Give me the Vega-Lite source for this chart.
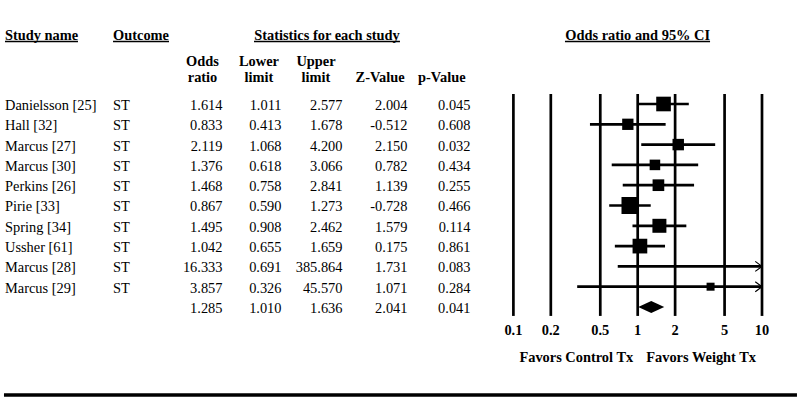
{
  "$schema": "https://vega.github.io/schema/vega-lite/v6.json",
  "width": 762,
  "height": 401,
  "padding": {"left": 0, "top": 0, "right": 38, "bottom": 0},
  "autosize": {"type": "none"},
  "background": "white",
  "config": {
    "view": {"stroke": null},
    "text": {"font": "Liberation Serif", "fontSize": 14.4, "color": "black"},
    "locale": {"number": {"decimal": ".", "thousands": ",", "grouping": [3], "currency": ["$", ""], "minus": "-"}}
  },
  "datasets": {
    "rows": [
      {"id": 1, "kind": "study", "study": "Danielsson [25]", "outcome": "ST", "or": 1.614, "lower": 1.011, "upper": 2.577, "z": 2.004, "p": 0.045, "weight": 16.16},
      {"id": 2, "kind": "study", "study": "Hall [32]", "outcome": "ST", "or": 0.833, "lower": 0.413, "upper": 1.678, "z": -0.512, "p": 0.608, "weight": 7.20},
      {"id": 3, "kind": "study", "study": "Marcus [27]", "outcome": "ST", "or": 2.119, "lower": 1.068, "upper": 4.200, "z": 2.150, "p": 0.032, "weight": 7.55},
      {"id": 4, "kind": "study", "study": "Marcus [30]", "outcome": "ST", "or": 1.376, "lower": 0.618, "upper": 3.066, "z": 0.782, "p": 0.434, "weight": 5.52},
      {"id": 5, "kind": "study", "study": "Perkins [26]", "outcome": "ST", "or": 1.468, "lower": 0.758, "upper": 2.841, "z": 1.139, "p": 0.255, "weight": 8.10},
      {"id": 6, "kind": "study", "study": "Pirie [33]", "outcome": "ST", "or": 0.867, "lower": 0.590, "upper": 1.273, "z": -0.728, "p": 0.466, "weight": 23.92},
      {"id": 7, "kind": "study", "study": "Spring [34]", "outcome": "ST", "or": 1.495, "lower": 0.908, "upper": 2.462, "z": 1.579, "p": 0.114, "weight": 14.23},
      {"id": 8, "kind": "study", "study": "Ussher [61]", "outcome": "ST", "or": 1.042, "lower": 0.655, "upper": 1.659, "z": 0.175, "p": 0.861, "weight": 16.39},
      {"id": 9, "kind": "study", "study": "Marcus [28]", "outcome": "ST", "or": 16.333, "lower": 0.691, "upper": 385.864, "z": 1.731, "p": 0.083, "weight": 0.35},
      {"id": 10, "kind": "study", "study": "Marcus [29]", "outcome": "ST", "or": 3.857, "lower": 0.326, "upper": 45.570, "z": 1.071, "p": 0.284, "weight": 0.58},
      {"id": 11, "kind": "summary", "study": "", "outcome": "", "or": 1.285, "lower": 1.010, "upper": 1.636, "z": 2.041, "p": 0.041, "weight": 100}
    ],
    "ticks": [{"v": 0.1}, {"v": 0.2}, {"v": 0.5}, {"v": 1}, {"v": 2}, {"v": 5}, {"v": 10}]
  },
  "data": {"name": "rows"},
  "layer": [
    {
      "layer": [
        {
          "mark": {"type": "text", "align": "left", "baseline": "middle", "dy": 2},
          "encoding": {
            "x": {"datum": "Study", "bandPosition": 0.059, "scale": {"type": "band", "domain": ["Study", "Outcome", "OR", "LL", "UL", "Z", "P"], "paddingInner": 0, "paddingOuter": 1, "align": 0, "round": false}, "axis": null},
            "y": {"field": "id", "type": "quantitative", "scale": {"domain": [-4.123, 15.631], "reverse": true, "nice": false, "zero": false}, "axis": null},
            "text": {"field": "study", "type": "nominal"}
          }
        },
        {
          "mark": {"type": "text", "align": "left", "baseline": "middle", "dy": 2},
          "encoding": {
            "x": {"datum": "Outcome", "bandPosition": 0.335, "axis": null},
            "y": {"field": "id", "type": "quantitative", "axis": null},
            "text": {"field": "outcome", "type": "nominal"}
          }
        },
        {
          "mark": {"type": "text", "align": "right", "baseline": "middle", "dy": 2},
          "encoding": {
            "x": {"datum": "OR", "bandPosition": 0.628, "axis": null},
            "y": {"field": "id", "type": "quantitative", "axis": null},
            "text": {"field": "or", "type": "quantitative", "format": ".3f"}
          }
        },
        {
          "mark": {"type": "text", "align": "right", "baseline": "middle", "dy": 2},
          "encoding": {
            "x": {"datum": "LL", "bandPosition": 0.325, "axis": null},
            "y": {"field": "id", "type": "quantitative", "axis": null},
            "text": {"field": "lower", "type": "quantitative", "format": ".3f"}
          }
        },
        {
          "mark": {"type": "text", "align": "right", "baseline": "middle", "dy": 2},
          "encoding": {
            "x": {"datum": "UL", "bandPosition": 0.045, "axis": null},
            "y": {"field": "id", "type": "quantitative", "axis": null},
            "text": {"field": "upper", "type": "quantitative", "format": ".3f"}
          }
        },
        {
          "mark": {"type": "text", "align": "right", "baseline": "middle", "dy": 2},
          "encoding": {
            "x": {"datum": "Z", "bandPosition": -0.187, "axis": null},
            "y": {"field": "id", "type": "quantitative", "axis": null},
            "text": {"field": "z", "type": "quantitative", "format": ".3f"}
          }
        },
        {
          "mark": {"type": "text", "align": "right", "baseline": "middle", "dy": 2},
          "encoding": {
            "x": {"datum": "P", "bandPosition": -0.443, "axis": null},
            "y": {"field": "id", "type": "quantitative", "axis": null},
            "text": {"field": "p", "type": "quantitative", "format": ".3f"}
          }
        },
        {
          "data": {"values": [{"label": "Study name"}]},
          "mark": {"type": "text", "align": "left", "baseline": "alphabetic", "fontWeight": "bold"},
          "encoding": {
            "x": {"datum": "Study", "bandPosition": 0.059, "axis": null},
            "y": {"datum": -2.177, "type": "quantitative", "axis": null},
            "text": {"field": "label", "type": "nominal"}
          }
        },
        {
          "data": {"values": [{"label": "Outcome"}]},
          "mark": {"type": "text", "align": "left", "baseline": "alphabetic", "fontWeight": "bold"},
          "encoding": {
            "x": {"datum": "Outcome", "bandPosition": 0.335, "axis": null},
            "y": {"datum": -2.177, "type": "quantitative", "axis": null},
            "text": {"field": "label", "type": "nominal"}
          }
        },
        {
          "data": {"values": [{"label": "Statistics for each study"}]},
          "mark": {"type": "text", "align": "center", "baseline": "alphabetic", "fontWeight": "bold"},
          "encoding": {
            "x": {"datum": "UL", "bandPosition": -0.138, "axis": null},
            "y": {"datum": -2.177, "type": "quantitative", "axis": null},
            "text": {"field": "label", "type": "nominal"}
          }
        },
        {
          "data": {"values": [{}]},
          "mark": {"type": "rule", "strokeWidth": 1.4, "color": "black"},
          "encoding": {
            "x": {"datum": "Study", "bandPosition": 0.059, "axis": null},
            "x2": {"datum": "Study", "bandPosition": 0.921},
            "y": {"datum": -2.079, "type": "quantitative", "axis": null}
          }
        },
        {
          "data": {"values": [{}]},
          "mark": {"type": "rule", "strokeWidth": 1.4, "color": "black"},
          "encoding": {
            "x": {"datum": "Outcome", "bandPosition": 0.335, "axis": null},
            "x2": {"datum": "Outcome", "bandPosition": 0.996},
            "y": {"datum": -2.079, "type": "quantitative", "axis": null}
          }
        },
        {
          "data": {"values": [{}]},
          "mark": {"type": "rule", "strokeWidth": 1.4, "color": "black"},
          "encoding": {
            "x": {"datum": "LL", "bandPosition": 0, "axis": null},
            "x2": {"datum": "Z", "bandPosition": -0.276},
            "y": {"datum": -2.079, "type": "quantitative", "axis": null}
          }
        },
        {
          "data": {"values": [{"label": "Odds\nratio"}]},
          "mark": {"type": "text", "align": "center", "baseline": "alphabetic", "fontWeight": "bold", "lineBreak": "\n", "lineHeight": 16.6},
          "encoding": {
            "x": {"datum": "OR", "bandPosition": 0.392, "axis": null},
            "y": {"datum": -0.887, "type": "quantitative", "axis": null},
            "text": {"field": "label", "type": "nominal"}
          }
        },
        {
          "data": {"values": [{"label": "Lower\nlimit"}]},
          "mark": {"type": "text", "align": "center", "baseline": "alphabetic", "fontWeight": "bold", "lineBreak": "\n", "lineHeight": 16.6},
          "encoding": {
            "x": {"datum": "LL", "bandPosition": 0.059, "axis": null},
            "y": {"datum": -0.887, "type": "quantitative", "axis": null},
            "text": {"field": "label", "type": "nominal"}
          }
        },
        {
          "data": {"values": [{"label": "Upper\nlimit"}]},
          "mark": {"type": "text", "align": "center", "baseline": "alphabetic", "fontWeight": "bold", "lineBreak": "\n", "lineHeight": 16.6},
          "encoding": {
            "x": {"datum": "UL", "bandPosition": -0.268, "axis": null},
            "y": {"datum": -0.887, "type": "quantitative", "axis": null},
            "text": {"field": "label", "type": "nominal"}
          }
        },
        {
          "data": {"values": [{"label": "Z-Value"}]},
          "mark": {"type": "text", "align": "center", "baseline": "alphabetic", "fontWeight": "bold"},
          "encoding": {
            "x": {"datum": "Z", "bandPosition": -0.511, "axis": null},
            "y": {"datum": -0.069, "type": "quantitative", "axis": null},
            "text": {"field": "label", "type": "nominal"}
          }
        },
        {
          "data": {"values": [{"label": "p-Value"}]},
          "mark": {"type": "text", "align": "center", "baseline": "alphabetic", "fontWeight": "bold"},
          "encoding": {
            "x": {"datum": "P", "bandPosition": -0.782, "axis": null},
            "y": {"datum": -0.069, "type": "quantitative", "axis": null},
            "text": {"field": "label", "type": "nominal"}
          }
        },
        {
          "data": {"values": [{}]},
          "mark": {"type": "rule", "strokeWidth": 3.5, "color": "black"},
          "encoding": {
            "x": {"datum": "Study", "bandPosition": 0.047, "axis": null},
            "x2": {"datum": "P", "bandPosition": 3.413},
            "y": {"datum": 15.34, "type": "quantitative", "axis": null}
          }
        }
      ]
    },
    {
      "layer": [
        {
          "data": {"name": "ticks"},
          "mark": {"type": "rule", "strokeWidth": 2.7, "color": "black"},
          "encoding": {
            "x": {"field": "v", "type": "quantitative", "scale": {"type": "log", "domain": [7.41e-6, 10], "clamp": true, "nice": false}, "axis": null},
            "y": {"datum": 0.507, "type": "quantitative", "axis": null},
            "y2": {"datum": 11.44}
          }
        },
        {
          "data": {"name": "ticks"},
          "mark": {"type": "text", "align": "center", "baseline": "alphabetic", "fontWeight": "bold"},
          "encoding": {
            "x": {"field": "v", "type": "quantitative", "axis": null},
            "y": {"datum": 12.4, "type": "quantitative", "axis": null},
            "text": {"field": "v", "type": "quantitative", "format": "~g"}
          }
        },
        {
          "transform": [{"filter": "datum.kind == 'study'"}],
          "mark": {"type": "rule", "strokeWidth": 2.7, "color": "black"},
          "encoding": {
            "x": {"field": "lower", "type": "quantitative", "axis": null},
            "x2": {"field": "upper"},
            "y": {"field": "id", "type": "quantitative", "axis": null}
          }
        },
        {
          "transform": [{"filter": "datum.kind == 'study' && datum.or <= 10"}],
          "mark": {"type": "square", "color": "black", "opacity": 1, "filled": true},
          "encoding": {
            "x": {"field": "or", "type": "quantitative", "axis": null},
            "y": {"field": "id", "type": "quantitative", "axis": null},
            "size": {"field": "weight", "type": "quantitative", "scale": {"domain": [0.58, 23.92], "range": [64, 289], "zero": false}, "legend": null}
          }
        },
        {
          "transform": [{"filter": "datum.upper > 10"}],
          "mark": {"type": "point", "shape": "M-1.35,-1L0,0L-1.35,1", "size": 100, "filled": false, "stroke": "black", "strokeWidth": 1.2, "opacity": 1},
          "encoding": {
            "x": {"field": "upper", "type": "quantitative", "axis": null},
            "y": {"field": "id", "type": "quantitative", "axis": null}
          }
        },
        {
          "transform": [{"filter": "datum.kind == 'summary'"}],
          "mark": {"type": "point", "shape": "M-1,0L0,-0.46L1,0L0,0.46Z", "size": 676, "filled": true, "color": "black", "strokeWidth": 0, "opacity": 1},
          "encoding": {
            "x": {"field": "or", "type": "quantitative", "axis": null},
            "y": {"field": "id", "type": "quantitative", "axis": null}
          }
        },
        {
          "data": {"values": [{"label": "Odds ratio and 95% CI"}]},
          "mark": {"type": "text", "align": "center", "baseline": "alphabetic", "fontWeight": "bold"},
          "encoding": {
            "x": {"datum": 1, "type": "quantitative", "axis": null},
            "y": {"datum": -2.177, "type": "quantitative", "axis": null},
            "text": {"field": "label", "type": "nominal"}
          }
        },
        {
          "data": {"values": [{}]},
          "mark": {"type": "rule", "strokeWidth": 1.4, "color": "black"},
          "encoding": {
            "x": {"datum": 0.26, "type": "quantitative", "axis": null},
            "x2": {"datum": 3.82},
            "y": {"datum": -2.079, "type": "quantitative", "axis": null}
          }
        },
        {
          "data": {"values": [{"label": "Favors Control Tx"}]},
          "mark": {"type": "text", "align": "right", "baseline": "alphabetic", "fontWeight": "bold", "dx": -4.5},
          "encoding": {
            "x": {"datum": 1, "type": "quantitative", "axis": null},
            "y": {"datum": 13.7, "type": "quantitative", "axis": null},
            "text": {"field": "label", "type": "nominal"}
          }
        },
        {
          "data": {"values": [{"label": "Favors Weight Tx"}]},
          "mark": {"type": "text", "align": "left", "baseline": "alphabetic", "fontWeight": "bold", "dx": 8.5},
          "encoding": {
            "x": {"datum": 1, "type": "quantitative", "axis": null},
            "y": {"datum": 13.7, "type": "quantitative", "axis": null},
            "text": {"field": "label", "type": "nominal"}
          }
        }
      ]
    }
  ],
  "resolve": {"scale": {"x": "independent"}}
}
